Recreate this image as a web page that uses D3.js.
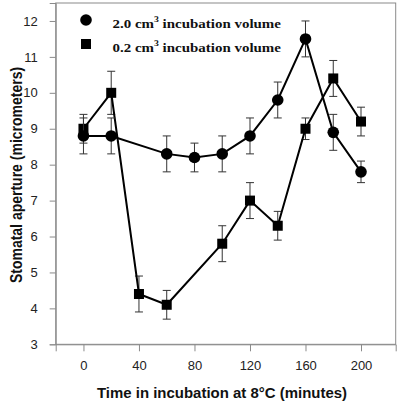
<!DOCTYPE html>
<html>
<head>
<meta charset="utf-8">
<script src="https://cdn.jsdelivr.net/npm/d3@7"></script>
<style>
  html, body { margin: 0; padding: 0; background: #fff; }
  svg { display: block; }
</style>
</head>
<body>
<svg id="chart" width="400" height="403"></svg>
<script>
// ---- data ----
const vol20Times = [0, 20, 60, 80, 100, 120, 140, 160, 180, 200];
const vol20Values = [8.8, 8.8, 8.3, 8.2, 8.3, 8.8, 9.8, 11.5, 8.9, 7.8];
const vol20Errors = [0.5, 0.5, 0.5, 0.4, 0.5, 0.5, 0.5, 0.5, 0.5, 0.3];
const vol02Times = [0, 20, 40, 60, 100, 120, 140, 160, 180, 200];
const vol02Values = [9.0, 10.0, 4.4, 4.1, 5.8, 7.0, 6.3, 9.0, 10.4, 9.2];
const vol02Errors = [0.4, 0.6, 0.5, 0.4, 0.5, 0.5, 0.4, 0.3, 0.5, 0.4];
const xTicks = [0, 40, 80, 120, 160, 200];
const yTicks = [3, 4, 5, 6, 7, 8, 9, 10, 11, 12];
const legendLabels = ["2.0 cm", "0.2 cm"];
const xTitle = "Time in incubation at 8\u00B0C (minutes)";
const yTitle = "Stomatal aperture (micrometers)";

// ---- layout ----
const L = 55.7, R = 395.7, T = 3, B = 344.3;
const svg = d3.select("#chart");
const x = d3.scaleLinear().domain([-20, 225]).range([L, R]);
const y = d3.scaleLinear().domain([3, 12.5]).range([B, T]);
const axisColor = "#8a8a8a";
const sans = "'Liberation Sans', Arial, sans-serif";

// frame
svg.append("rect").attr("x", L).attr("y", T).attr("width", R - L).attr("height", B - T)
  .attr("fill", "none").attr("stroke", axisColor).attr("stroke-width", 1);

// axes
const yAxis = svg.append("g").attr("transform", `translate(${L},0)`)
  .call(d3.axisLeft(y).tickValues(yTicks).tickSize(6).tickPadding(12).tickFormat(d3.format("d")));
const xAxis = svg.append("g").attr("transform", `translate(0,${B})`)
  .call(d3.axisBottom(x).tickValues(xTicks).tickSize(7).tickPadding(9).tickFormat(d3.format("d")));
[xAxis, yAxis].forEach(g => {
  g.select(".domain").attr("stroke", axisColor);
  g.selectAll(".tick line").attr("stroke", axisColor);
  g.selectAll(".tick text").attr("fill", "#222").style("font-family", sans).style("font-size", "13px");
});

// axis titles
svg.append("text").attr("transform", "translate(222,397.5) scale(1.07,1)").attr("text-anchor", "middle")
  .style("font-family", sans).style("font-weight", "bold").style("font-size", "14px")
  .attr("fill", "#111").text(xTitle);
svg.append("text").attr("transform", "translate(22,175) scale(1.15,1) rotate(-90)").attr("text-anchor", "middle")
  .style("font-family", sans).style("font-weight", "bold").style("font-size", "14px")
  .attr("fill", "#111").text(yTitle);

// series drawing
function drawSeries(ts, vs, es, shape) {
  const pts = ts.map((t, i) => ({ t, v: vs[i], e: es[i] }));
  const g = svg.append("g");
  const eb = g.selectAll(".eb").data(pts).enter().append("g").attr("stroke", "#333").attr("stroke-width", 1);
  eb.append("line").attr("x1", d => x(d.t)).attr("x2", d => x(d.t)).attr("y1", d => y(d.v - d.e)).attr("y2", d => y(d.v + d.e));
  eb.append("line").attr("x1", d => x(d.t) - 4).attr("x2", d => x(d.t) + 4).attr("y1", d => y(d.v + d.e)).attr("y2", d => y(d.v + d.e));
  eb.append("line").attr("x1", d => x(d.t) - 4).attr("x2", d => x(d.t) + 4).attr("y1", d => y(d.v - d.e)).attr("y2", d => y(d.v - d.e));
  g.append("path").datum(pts).attr("fill", "none").attr("stroke", "#000").attr("stroke-width", 2)
    .attr("d", d3.line().x(d => x(d.t)).y(d => y(d.v)));
  if (shape === "circle") {
    g.selectAll("circle").data(pts).enter().append("circle")
      .attr("cx", d => x(d.t)).attr("cy", d => y(d.v)).attr("r", 5.8).attr("fill", "#000");
  } else {
    g.selectAll("rect.m").data(pts).enter().append("rect").attr("class", "m")
      .attr("x", d => x(d.t) - 5).attr("y", d => y(d.v) - 5).attr("width", 10).attr("height", 10).attr("fill", "#000");
  }
}
drawSeries(vol02Times, vol02Values, vol02Errors, "square");
drawSeries(vol20Times, vol20Values, vol20Errors, "circle");

// legend
const lg = svg.append("g");
lg.append("circle").attr("cx", 86).attr("cy", 20).attr("r", 5.8).attr("fill", "#000");
lg.append("rect").attr("x", 81).attr("y", 39).attr("width", 10).attr("height", 10).attr("fill", "#000");
[27.5, 51.5].forEach((by, i) => {
  const t = lg.append("text").attr("transform", `translate(112.5,${by}) scale(1.15,1)`)
    .style("font-family", "'Liberation Serif', 'Times New Roman', serif").style("font-weight", "bold").style("font-size", "13px")
    .attr("fill", "#111");
  t.append("tspan").text(legendLabels[i]);
  t.append("tspan").attr("dy", -6).style("font-size", "8.5px").text("3");
  t.append("tspan").attr("dy", 6).text(" incubation volume");
});
</script>
</body>
</html>
